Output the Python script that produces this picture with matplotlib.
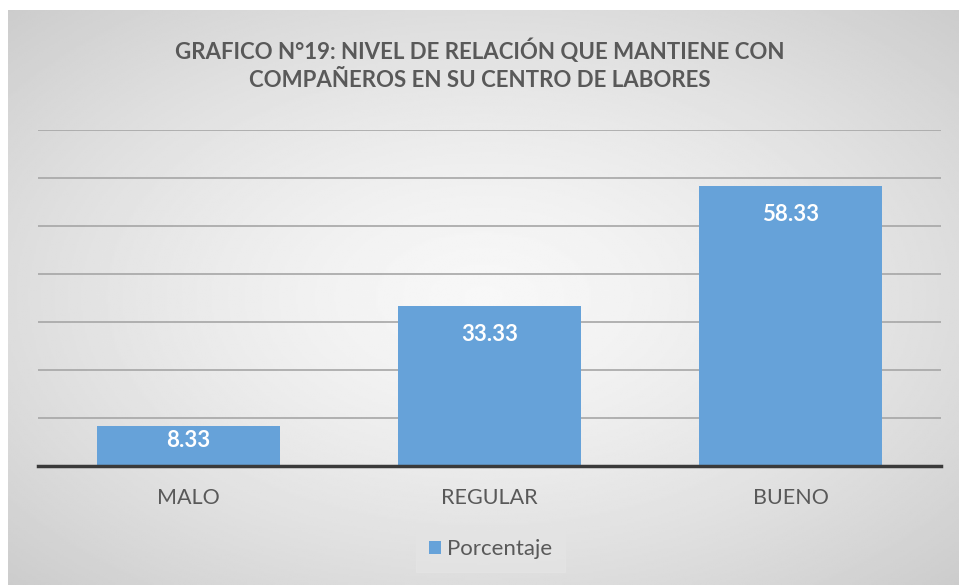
import numpy as np
import matplotlib.pyplot as plt

categorias = ['MALO', 'REGULAR', 'BUENO']
porcentaje = [8.33, 33.33, 58.33]
titulo = 'GRAFICO N°19: NIVEL DE RELACIÓN QUE MANTIENE CON\nCOMPAÑEROS EN SU CENTRO DE LABORES'

plt.rcParams['font.family'] = ['Lato', 'DejaVu Sans']

fig = plt.figure(figsize=(9.6, 5.85), dpi=100)
fig.patch.set_facecolor('white')

# fondo con degradado radial (como Excel)
bg = fig.add_axes([0.008, 0, 0.99, 0.983])
yy, xx = np.mgrid[-1:1:300j, -1:1:500j]
r = np.sqrt(xx**2 + yy**2) / np.sqrt(2)
grad = 0.97 - 0.17 * r**1.4
bg.imshow(grad, cmap='gray', vmin=0, vmax=1, aspect='auto', extent=[0, 1, 0, 1])
bg.axis('off')

ax = fig.add_axes([0.0396, 0.2026, 0.9406, 0.575])
ax.patch.set_alpha(0)
x = np.arange(len(categorias))
bars = ax.bar(x, porcentaje, width=0.607, color='#66a2d9', zorder=3, label='Porcentaje')
ax.set_xlim(-0.5, 2.5)
ax.set_ylim(0, 70)
ax.set_yticks(np.arange(0, 71, 10))
ax.yaxis.grid(True, color='#a6a6a6', linewidth=1.2, zorder=0)
ax.tick_params(axis='y', left=False, labelleft=False)
ax.tick_params(axis='x', bottom=False, labelsize=15.5, labelcolor='#595959', pad=12)
ax.set_xticks(x)
ax.set_xticklabels(categorias)
for s in ['top', 'right', 'left']:
    ax.spines[s].set_visible(False)
ax.spines['bottom'].set_color('#3a3a3a')
ax.spines['bottom'].set_linewidth(2.5)
ax.spines['bottom'].set_zorder(4)

for xi, v in zip(x, porcentaje):
    ax.text(xi, v - min(5.85, 0.35 * v), f'{v:.2f}', ha='center', va='center',
            color='white', fontsize=16, fontweight='bold', zorder=5)

fig.text(0.5, 0.889, titulo, ha='center', va='center', fontsize=16,
         fontweight='bold', color='#595959', linespacing=1.4)

leg = fig.legend(handles=[bars], labels=['Porcentaje'], loc='center',
                 bbox_to_anchor=(0.511, 0.0607), frameon=True, fontsize=16,
                 handlelength=0.55, handleheight=0.55, handletextpad=0.3,
                 borderpad=0.55, fancybox=False)
leg.get_frame().set_facecolor('#e4e4e4')
leg.get_frame().set_edgecolor('#e4e4e4')
for t in leg.get_texts():
    t.set_color('#595959')

plt.savefig('out.png', dpi=100)
